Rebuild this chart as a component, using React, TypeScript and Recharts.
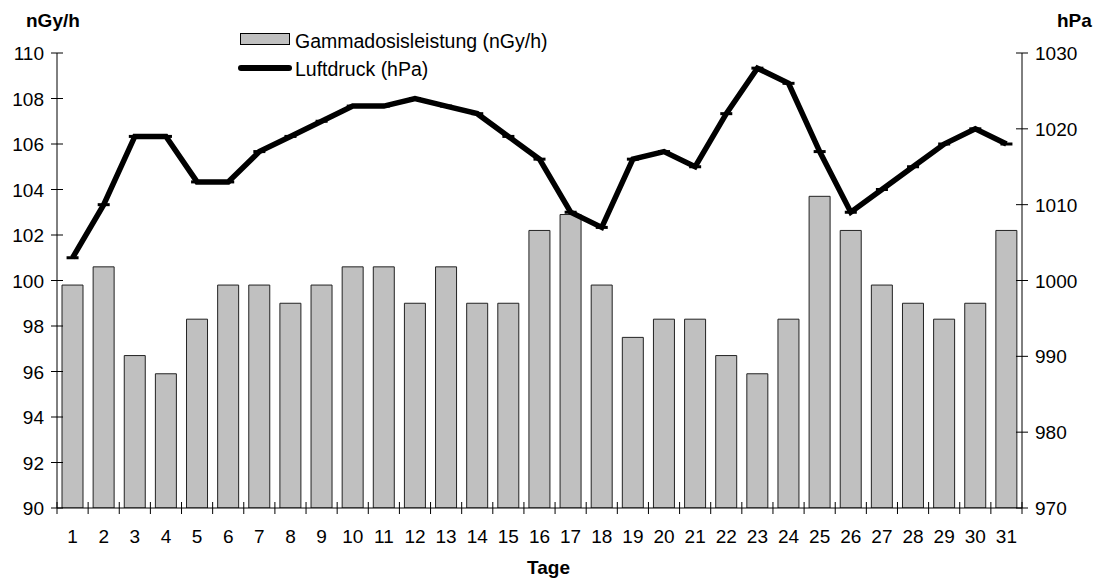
import React from "react"
import { ComposedChart, Bar, Line, XAxis, YAxis } from "recharts"

const tage = [
  "1", "2", "3", "4", "5", "6", "7", "8", "9", "10", "11", "12", "13", "14", "15", "16",
  "17", "18", "19", "20", "21", "22", "23", "24", "25", "26", "27", "28", "29", "30", "31",
]

const gammadosis = [
  99.8, 100.6, 96.7, 95.9, 98.3, 99.8, 99.8, 99.0, 99.8, 100.6, 100.6, 99.0, 100.6, 99.0, 99.0, 102.2,
  102.9, 99.8, 97.5, 98.3, 98.3, 96.7, 95.9, 98.3, 103.7, 102.2, 99.8, 99.0, 98.3, 99.0, 102.2,
]

const luftdruck = [
  1003, 1010, 1019, 1019, 1013, 1013, 1017, 1019, 1021, 1023, 1023, 1024, 1023, 1022, 1019, 1016,
  1009, 1007, 1016, 1017, 1015, 1022, 1028, 1026, 1017, 1009, 1012, 1015, 1018, 1020, 1018,
]

const leftTicks = [90, 92, 94, 96, 98, 100, 102, 104, 106, 108, 110]
const rightTicks = [970, 980, 990, 1000, 1010, 1020, 1030]

const data = tage.map((t, i) => ({ tag: t, gamma: gammadosis[i], druck: luftdruck[i] }))

const W = 1097
const H = 579
const PLOT_LEFT = 57
const PLOT_RIGHT = 1022
const BAND = (PLOT_RIGHT - PLOT_LEFT) / tage.length
const FONT = "'Liberation Sans', Arial, sans-serif"
const FS = 19

function LeftTick(props: any) {
  const { x, y, payload } = props
  return (
    <g>
      <line x1={x - 6} x2={x + 6} y1={y} y2={y} stroke="#000" />
      <text x={x - 13} y={y} dy={7} textAnchor="end" fontSize={FS} fill="#000" fontFamily={FONT}>
        {payload.value}
      </text>
    </g>
  )
}

function RightTick(props: any) {
  const { x, y, payload } = props
  return (
    <g>
      <line x1={x - 6} x2={x + 6} y1={y} y2={y} stroke="#000" />
      <text x={x + 13} y={y} dy={7} textAnchor="start" fontSize={FS} fill="#000" fontFamily={FONT}>
        {payload.value}
      </text>
    </g>
  )
}

function BottomTick(props: any) {
  const { x, y, payload, index } = props
  const last = index === tage.length - 1
  return (
    <g>
      <line x1={x - BAND / 2} x2={x - BAND / 2} y1={y - 6} y2={y + 6} stroke="#000" />
      {last && <line x1={x + BAND / 2} x2={x + BAND / 2} y1={y - 6} y2={y + 6} stroke="#000" />}
      <text x={x} y={y + 35} textAnchor="middle" fontSize={FS} fill="#000" fontFamily={FONT}>
        {payload.value}
      </text>
    </g>
  )
}

function DashDot(props: any) {
  const { cx, cy } = props
  if (cx == null || cy == null) return null
  return <rect x={cx - 6} y={cy - 1.5} width={12} height={3} fill="#000" />
}

export default function App() {
  return (
    <div style={{ position: "absolute", left: 0, top: 0, width: W, height: H, background: "#fff", fontFamily: FONT, color: "#000" }}>
      <ComposedChart
        width={W}
        height={H}
        data={data}
        margin={{ top: 53, right: 0, bottom: 0, left: 0 }}
        barSize={21}
      >
        <XAxis
          dataKey="tag"
          height={71}
          tickSize={0}
          tickMargin={0}
          tickLine={false}
          axisLine={{ stroke: "#000" }}
          tick={<BottomTick />}
          interval={0}
        />
        <YAxis
          yAxisId="left"
          orientation="left"
          width={PLOT_LEFT}
          domain={[90, 110]}
          ticks={leftTicks}
          allowDataOverflow
          tickSize={0}
          tickMargin={0}
          tickLine={false}
          axisLine={{ stroke: "#000" }}
          tick={<LeftTick />}
          interval={0}
        />
        <YAxis
          yAxisId="right"
          orientation="right"
          width={W - PLOT_RIGHT}
          domain={[970, 1030]}
          ticks={rightTicks}
          allowDataOverflow
          tickSize={0}
          tickMargin={0}
          tickLine={false}
          axisLine={{ stroke: "#000" }}
          tick={<RightTick />}
          interval={0}
        />
        <Bar
          yAxisId="left"
          dataKey="gamma"
          name="Gammadosisleistung (nGy/h)"
          fill="#c0c0c0"
          stroke="#222"
          strokeWidth={1}
          isAnimationActive={false}
        />
        <Line
          yAxisId="right"
          dataKey="druck"
          name="Luftdruck (hPa)"
          stroke="#000"
          strokeWidth={5.5}
          strokeLinejoin="miter"
          dot={<DashDot />}
          activeDot={false}
          isAnimationActive={false}
        />
      </ComposedChart>
      <div style={{ position: "absolute", left: 240, top: 33, width: 50, height: 12, boxSizing: "border-box", background: "#c0c0c0", border: "1px solid #000" }} />
      <div style={{ position: "absolute", left: 295, top: 30, fontSize: 19.5, lineHeight: "22px", whiteSpace: "nowrap" }}>
        Gammadosisleistung (nGy/h)
      </div>
      <div style={{ position: "absolute", left: 238, top: 65, width: 54, height: 6, background: "#000", borderRadius: 3 }} />
      <div style={{ position: "absolute", left: 295, top: 58, fontSize: 19.5, lineHeight: "22px", whiteSpace: "nowrap" }}>
        Luftdruck (hPa)
      </div>
      <div style={{ position: "absolute", left: 26, top: 10, fontSize: FS, fontWeight: "bold" }}>nGy/h</div>
      <div style={{ position: "absolute", left: 1057, top: 10, fontSize: FS, fontWeight: "bold" }}>hPa</div>
      <div style={{ position: "absolute", left: 0, width: W, top: 557, textAlign: "center", fontSize: FS, fontWeight: "bold" }}>
        Tage
      </div>
    </div>
  )
}
